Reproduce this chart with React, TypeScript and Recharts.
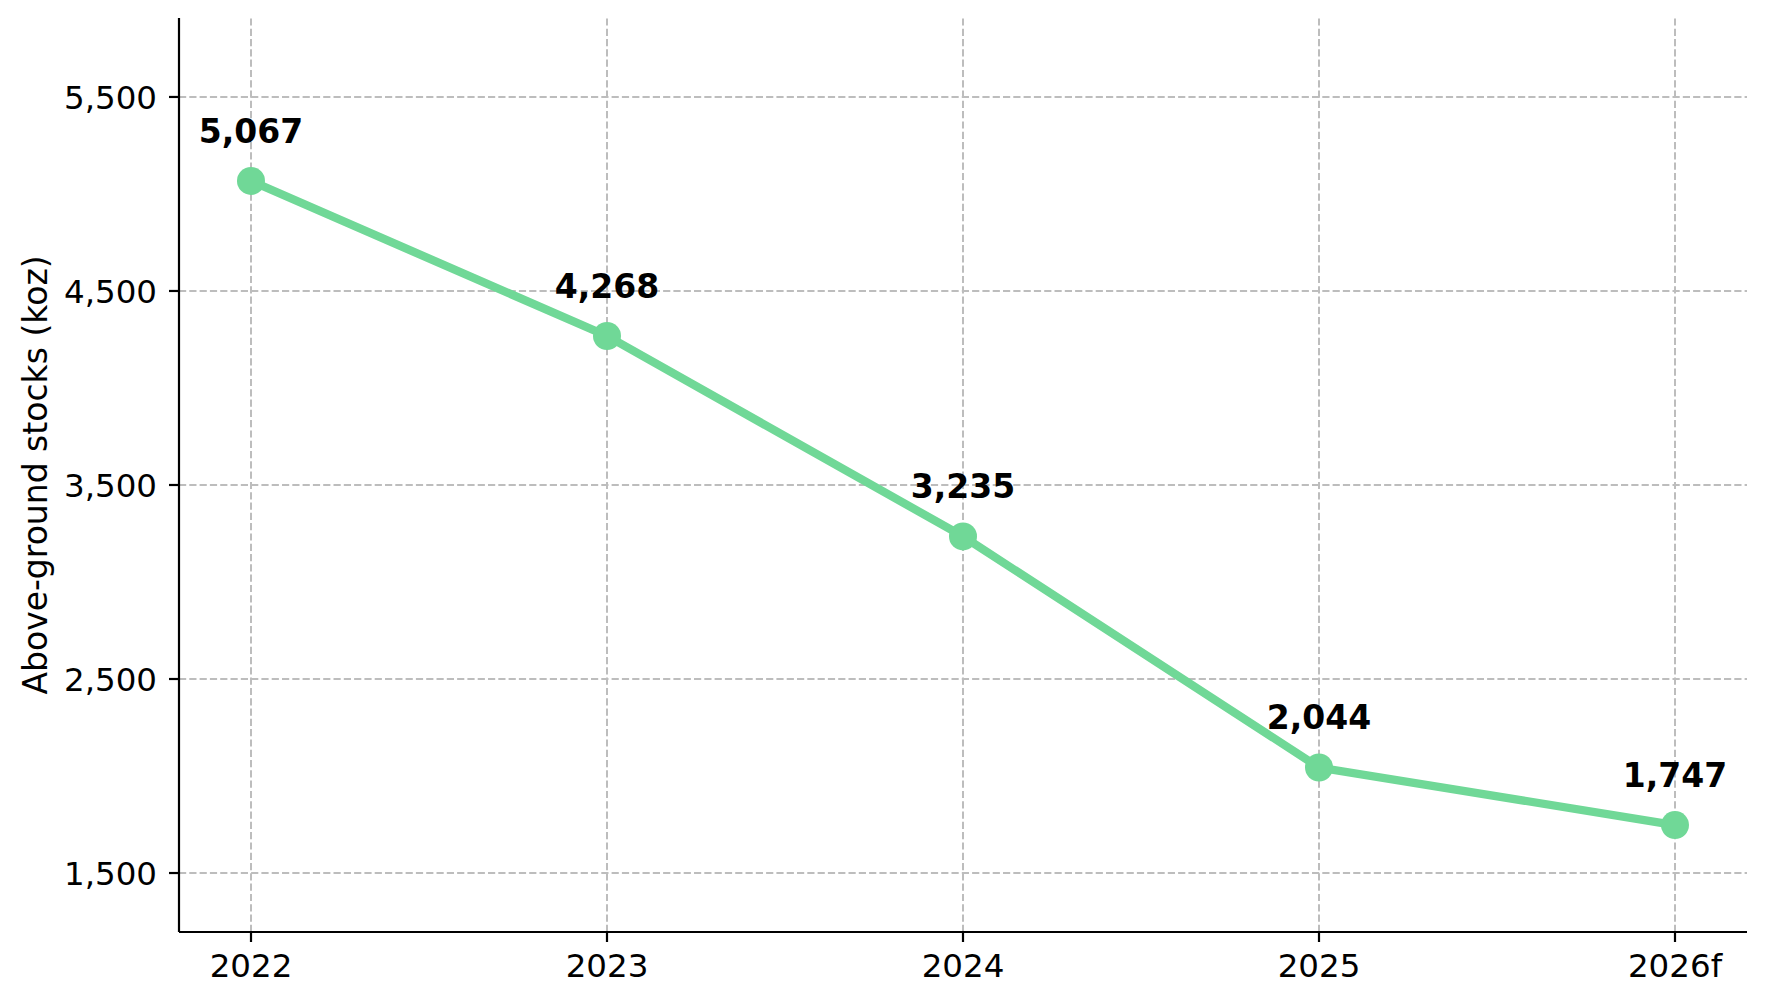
import { LabelList, Line, LineChart, ReferenceLine, XAxis, YAxis } from 'recharts'

const years = ['2022', '2023', '2024', '2025', '2026f']
const stocks = [5067, 4268, 3235, 2044, 1747]
const yTicks = [1500, 2500, 3500, 4500, 5500]

const data = years.map((year, i) => ({ year, stocks: stocks[i] }))

const green = '#70d897'
const gridColor = '#bdbdbd'
const fmt = (v: number) => v.toLocaleString('en-US')

function ValueLabel(props: any) {
  const { x, y, value } = props
  return (
    <text x={x} y={y - 38} textAnchor="middle" fontSize={33} fontWeight="bold" fill="#000">
      {fmt(value)}
    </text>
  )
}

function AxisTitle(props: any) {
  const { viewBox } = props
  const x = 39
  const y = viewBox.y + viewBox.height / 2
  return (
    <text x={x} y={y} transform={`rotate(-90, ${x}, ${y})`} textAnchor="middle" fontSize={33} fill="#000">
      Above-ground stocks (koz)
    </text>
  )
}

export default function App() {
  return (
    <div style={{ fontFamily: '"DejaVu Sans", sans-serif' }}>
      <LineChart width={1757} height={996} data={data} margin={{ top: 10, right: 18, bottom: 0, left: 0 }}>
        {yTicks.map((t) => (
          <ReferenceLine key={'h' + t} y={t} stroke={gridColor} strokeWidth={2} strokeDasharray="7.2 3.1" />
        ))}
        {years.map((yr) => (
          <ReferenceLine key={'v' + yr} x={yr} stroke={gridColor} strokeWidth={2} strokeDasharray="7.2 3.1" />
        ))}
        <XAxis
          dataKey="year"
          height={72}
          padding={{ left: 72, right: 72 }}
          tickSize={10}
          tickMargin={12}
          tick={{ fontSize: 32.5, fill: '#000' }}
          axisLine={{ stroke: '#000', strokeWidth: 2.2 }}
          tickLine={{ stroke: '#000', strokeWidth: 2.2 }}
        />
        <YAxis
          width={171}
          domain={[1196, 5907]}
          allowDataOverflow
          ticks={yTicks}
          tickFormatter={fmt}
          tickSize={10}
          tickMargin={12}
          tick={{ fontSize: 32.5, fill: '#000' }}
          axisLine={{ stroke: '#000', strokeWidth: 2.2 }}
          tickLine={{ stroke: '#000', strokeWidth: 2.2 }}
          label={{ content: AxisTitle }}
        />
        <Line
          dataKey="stocks"
          stroke={green}
          strokeWidth={8.3}
          dot={{ r: 14, fill: green, stroke: 'none', strokeWidth: 0 }}
          activeDot={false}
          isAnimationActive={false}
        >
          <LabelList dataKey="stocks" content={ValueLabel} />
        </Line>
      </LineChart>
    </div>
  )
}
